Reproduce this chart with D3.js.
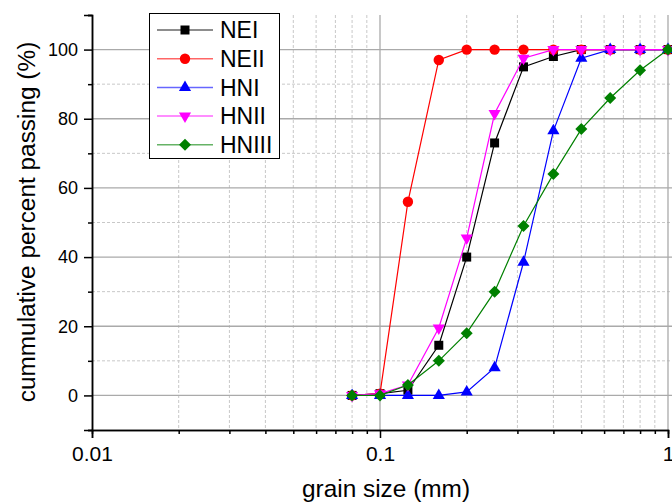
<!DOCTYPE html>
<html>
<head>
<meta charset="utf-8">
<script src="https://cdn.jsdelivr.net/npm/d3@7/dist/d3.min.js"></script>
<style>
  html, body { margin: 0; padding: 0; background: #fff; }
  svg { display: block; font-family: "Liberation Sans", Arial, sans-serif; }
</style>
</head>
<body>
<svg id="chart" width="672" height="503"></svg>
<script>
// ---- data ----
const grainSizes = [0.08, 0.1, 0.125, 0.16, 0.2, 0.25, 0.315, 0.4, 0.5, 0.63, 0.8, 1.0];
const seriesNames = ["NEI", "NEII", "HNI", "HNII", "HNIII"];
const NEI   = [0, 0.5, 1.5, 14.5, 40, 73, 95, 98, 100, 100, 100, 100];
const NEII  = [0, 0.5, 56, 97, 100, 100, 100, 100, 100, 100, 100, 100];
const HNI   = [0, 0, 0, 0, 1, 8, 38.5, 76.5, 97.5, 100, 100, 100];
const HNII  = [0, 0.5, 3, 19.5, 45.5, 81.5, 97.5, 100, 100, 100, 100, 100];
const HNIII = [0, 0, 3, 10, 18, 30, 49, 64, 77, 86, 94, 100];
const xTickValues = [0.01, 0.1, 1];
const xTickLabels = ["0.01", "0.1", "1"];
const yTickValues = [0, 20, 40, 60, 80, 100];
const xTitle = "grain size (mm)";
const yTitle = "cummulative percent passing (%)";

const seriesValues = [NEI, NEII, HNI, HNII, HNIII];
const colors = ["#000000", "#ff0000", "#0000ff", "#ff00ff", "#008000"];
const shapes = ["square", "circle", "triangle", "triangleDown", "diamond"];

// ---- layout ----
const svg = d3.select("#chart");
const x = d3.scaleLog().domain([0.01, 1]).range([92, 668]);
const y = d3.scaleLinear().domain([-10, 110]).range([430, 15]);

// minor values
const xMinor = [];
[0.01, 0.1].forEach(d => { for (let k = 2; k <= 9; k++) xMinor.push(+(d * k).toFixed(3)); });
const yMinor = [-10, 10, 30, 50, 70, 90, 110];

// grid
const grid = svg.append("g");
grid.selectAll(".vminor").data(xMinor).join("line")
  .attr("x1", d => x(d)).attr("x2", d => x(d))
  .attr("y1", y(110)).attr("y2", y(-10))
  .attr("stroke", "#c8c8c8").attr("stroke-width", 1).attr("stroke-dasharray", "3,2");
grid.selectAll(".hminor").data([10, 30, 50, 70, 90]).join("line")
  .attr("x1", x(0.01)).attr("x2", 672)
  .attr("y1", d => y(d)).attr("y2", d => y(d))
  .attr("stroke", "#c8c8c8").attr("stroke-width", 1).attr("stroke-dasharray", "3,2");
grid.selectAll(".vmajor").data([0.1, 1]).join("line")
  .attr("x1", d => x(d)).attr("x2", d => x(d))
  .attr("y1", y(110)).attr("y2", y(-10))
  .attr("stroke", "#aaaaaa").attr("stroke-width", 1.3);
grid.selectAll(".hmajor").data(yTickValues).join("line")
  .attr("x1", x(0.01)).attr("x2", 672)
  .attr("y1", d => y(d)).attr("y2", d => y(d))
  .attr("stroke", "#aaaaaa").attr("stroke-width", 1.3);

// axes
const xAxis = svg.append("g").attr("transform", `translate(0,${y(-10)})`);
xAxis.call(d3.axisBottom(x).tickValues(xMinor).tickSize(4).tickFormat(""));
const xAxisMajor = svg.append("g").attr("transform", `translate(0,${y(-10)})`);
xAxisMajor.call(d3.axisBottom(x).tickValues(xTickValues).tickSize(8).tickPadding(8)
  .tickFormat((d, i) => xTickLabels[i]));
[xAxis, xAxisMajor].forEach(g => {
  g.select(".domain").attr("stroke", "#000").attr("stroke-width", 1.5);
  g.selectAll(".tick line").attr("stroke", "#000").attr("stroke-width", 1.5);
});
xAxisMajor.selectAll("text").attr("font-size", 21).attr("fill", "#000")
  .attr("font-family", "Liberation Sans, Arial, sans-serif");

const yAxis = svg.append("g").attr("transform", `translate(${x(0.01)},0)`);
yAxis.call(d3.axisLeft(y).tickValues(yMinor).tickSize(4).tickFormat(""));
const yAxisMajor = svg.append("g").attr("transform", `translate(${x(0.01)},0)`);
yAxisMajor.call(d3.axisLeft(y).tickValues(yTickValues).tickSize(8).tickPadding(6));
[yAxis, yAxisMajor].forEach(g => {
  g.select(".domain").attr("stroke", "#000").attr("stroke-width", 1.5);
  g.selectAll(".tick line").attr("stroke", "#000").attr("stroke-width", 1.5);
});
yAxisMajor.selectAll("text").attr("font-size", 18).attr("fill", "#000")
  .attr("font-family", "Liberation Sans, Arial, sans-serif");

// titles
svg.append("text").attr("x", 386).attr("y", 497).attr("text-anchor", "middle")
  .attr("font-size", 24.4).attr("fill", "#000").text(xTitle);
svg.append("text").attr("transform", `translate(35,${222}) rotate(-90)`)
  .attr("text-anchor", "middle").attr("font-size", 24.4).attr("fill", "#000").text(yTitle);

// markers
function markerPath(shape) {
  switch (shape) {
    case "square": return d3.symbol(d3.symbolSquare, 81)();
    case "circle": return d3.symbol(d3.symbolCircle, 85)();
    case "triangle": return d3.symbol(d3.symbolTriangle, 64)();
    case "triangleDown": return d3.symbol(d3.symbolTriangle, 64)();
    case "diamond": return d3.symbol(d3.symbolSquare, 72)();
  }
}
function markerRot(shape) {
  if (shape === "triangleDown") return 180;
  if (shape === "diamond") return 45;
  return 0;
}

const line = d3.line().x(d => x(d[0])).y(d => y(d[1]));
const plot = svg.append("g");
seriesValues.forEach((vals, si) => {
  const pts = grainSizes.map((g, i) => [g, vals[i]]);
  const g = plot.append("g");
  g.append("path").datum(pts).attr("d", line)
    .attr("fill", "none").attr("stroke", colors[si]).attr("stroke-width", 1.2);
  g.selectAll("path.m").data(pts).join("path").attr("class", "m")
    .attr("d", markerPath(shapes[si]))
    .attr("transform", d => `translate(${x(d[0])},${y(d[1])}) rotate(${markerRot(shapes[si])})`)
    .attr("fill", colors[si]);
});

// legend
const legend = svg.append("g");
legend.append("rect").attr("x", 149.5).attr("y", 13.5).attr("width", 130).attr("height", 145)
  .attr("fill", "#fff").attr("stroke", "#000").attr("stroke-width", 1);
seriesNames.forEach((name, i) => {
  const cy = 30 + i * 28.7;
  legend.append("line").attr("x1", 157).attr("x2", 213).attr("y1", cy).attr("y2", cy)
    .attr("stroke", colors[i]).attr("stroke-width", 1.5).attr("stroke-opacity", 0.6);
  legend.append("path").attr("d", markerPath(shapes[i]))
    .attr("transform", `translate(185,${cy}) rotate(${markerRot(shapes[i])})`)
    .attr("fill", colors[i]);
  legend.append("text").attr("x", 220).attr("y", cy + 8.3)
    .attr("font-size", 23).attr("fill", "#000").text(name);
});
</script>
</body>
</html>
